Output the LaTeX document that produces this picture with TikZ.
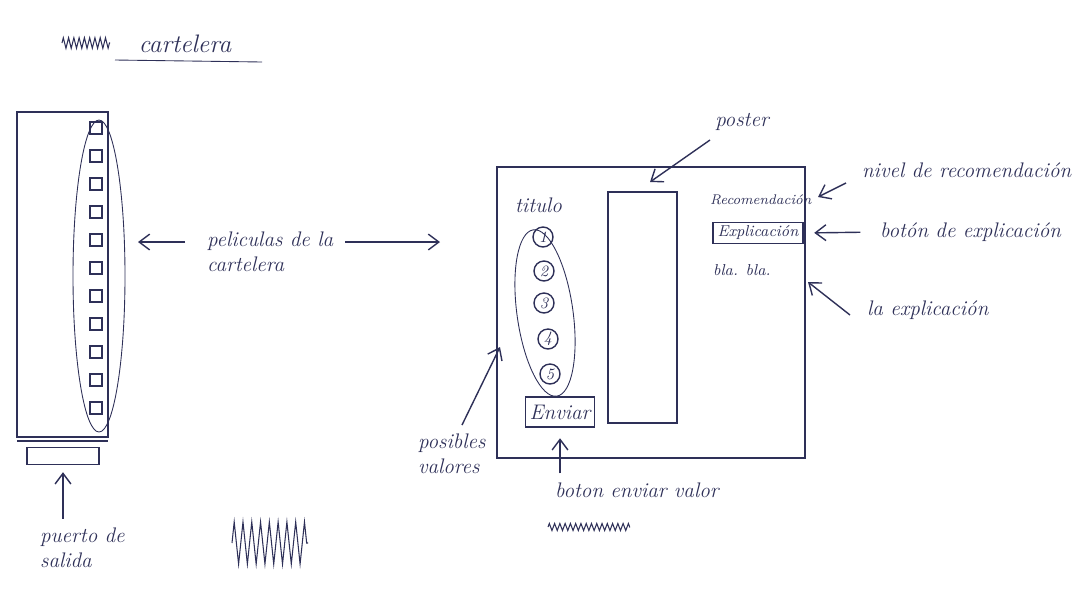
\documentclass[tikz,border=0pt]{standalone}
\usetikzlibrary{positioning,arrows.meta,decorations.pathmorphing}
\definecolor{inkc}{HTML}{2E3058}
\tikzset{
  ink/.style={draw=inkc,line width=0.8pt},
  hand/.style={text=inkc,font=\large\itshape,inner sep=1pt},
  pointer/.style={-{Straight Barb[length=6pt,width=9pt]},draw=inkc,line width=0.8pt},
  valor/.style={circle,ink,text=inkc,font=\small\itshape,minimum size=0.4cm,inner sep=0pt},
  boton/.style={ink,hand,rectangle,inner sep=2pt},
  tachado/.style={ink,line width=0.6pt,decorate,decoration={zigzag,amplitude=#1,segment length=3pt}},
}

\begin{document}
\begin{tikzpicture}[x=0.02cm,y=-0.02cm]
  \useasboundingbox (0,0) rectangle (1084,596);
  % titulo
  \draw[tachado=3pt] (62,43) -- (110,43);
  \node[hand,font=\Large\itshape] (cartel) at (185,44) {cartelera};
  \draw[ink,line width=0.5pt] (115,60) -- (262,62);
  % cartelera
  \draw[ink] (17,112) rectangle (108,437);
  \draw[ink] (17,441) -- (108,441);
  \node[ink,minimum width=1.44cm,minimum height=0.34cm] (salida) at (63,456) {};
  \foreach \i [evaluate=\i as \y using 128+28*\i] in {0,...,10}
    \draw[ink] (90,\y-6) rectangle (102,\y+6);
  \draw[ink,line width=0.5pt] (99,276) ellipse [x radius=26,y radius=156];
  \node[hand,align=left,anchor=west] (pelis) at (205,252) {peliculas de la\\cartelera};
  \coordinate (pelisL) at (185,242); \coordinate (listaE) at (138,242);
  \coordinate (pelisR) at (345,242); \coordinate (pantW) at (440,242);
  \draw[pointer] (pelisL) -- (listaE);
  \draw[pointer] (pelisR) -- (pantW);
  \node[hand,align=left,anchor=north west] (puerto) at (38,526) {puerto de\\salida};
  \draw[pointer,shorten <=4pt,shorten >=4pt] (puerto.north -| salida) -- (salida.south);
  \draw[ink,line width=0.6pt,decorate,decoration={zigzag,amplitude=12pt,segment length=5pt}] (232,543) -- (308,543);
  % pantalla de la pelicula
  \draw[ink] (497,167) rectangle (805,458);
  \draw[ink] (608,192) rectangle (677,423);
  \node[hand,anchor=west] (titulo) at (513,205) {titulo};
  \foreach \n/\x/\y in {1/543/237,2/544/271,3/544/303,4/548/339,5/550/374}
    \node[valor] (v\n) at (\x,\y) {\n};
  \draw[ink,line width=0.5pt,rotate around={8:(545,313)}] (545,313) ellipse [x radius=28,y radius=84];
  \node[boton,minimum width=1.38cm,minimum height=0.6cm] (enviar) at (560,412) {Enviar};
  \node[hand,font=\footnotesize\itshape,anchor=west] (recom) at (708,200) {Recomendación};
  \node[boton,font=\small\itshape,minimum width=1.8cm] (expl) at (758,233) {Explicación};
  \node[hand,font=\small\itshape,anchor=west] (bla) at (711,270) {bla. bla.};
  % etiquetas
  \node[hand] (poster) at (742,122) {poster};
  \coordinate (posterT) at (710,140); \coordinate (posterH) at (650,182);
  \draw[pointer] (posterT) -- (posterH);
  \node[hand,anchor=west] (nivel) at (860,170) {nivel de recomendación};
  \coordinate (nivelT) at (846,183); \coordinate (nivelH) at (818,197);
  \draw[pointer] (nivelT) -- (nivelH);
  \node[hand,anchor=west] (bexpl) at (878,232) {botón de explicación};
  \draw[pointer,shorten <=10pt,shorten >=6pt] (bexpl.west) -- (expl.east);
  \node[hand,anchor=west] (laexpl) at (865,310) {la explicación};
  \coordinate (laexplT) at (850,315); \coordinate (blaH) at (808,282);
  \draw[pointer] (laexplT) -- (blaH);
  \node[hand,align=left,anchor=north west] (posib) at (416,432) {posibles\\valores};
  \coordinate (posibT) at (462,425); \coordinate (valoresH) at (500,347);
  \draw[pointer] (posibT) -- (valoresH);
  \node[hand,anchor=west] (benv) at (553,490) {boton enviar valor};
  \draw[pointer,shorten <=4pt,shorten >=6pt] (benv.north -| enviar) -- (enviar.south);
  \draw[tachado=2pt] (548,527) -- (630,527);
\end{tikzpicture}
\end{document}
